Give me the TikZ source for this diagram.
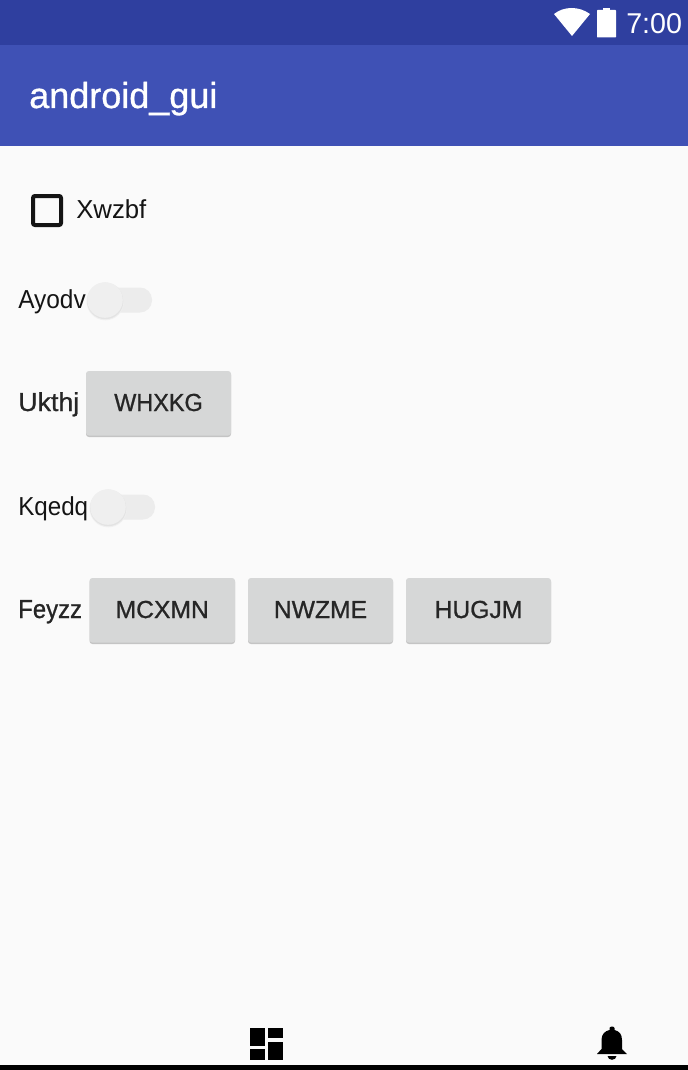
\documentclass[tikz,border=0pt]{standalone}
\usepackage{fontspec}
\setmainfont{Liberation Sans}
\newfontfamily\medfont[FakeBold=0.9]{Liberation Sans}
\definecolor{statusbar}{HTML}{2F3F9F}
\definecolor{appbar}{HTML}{3F51B5}
\definecolor{page}{HTML}{FAFAFA}
\definecolor{btn}{HTML}{D6D7D7}
\definecolor{btnshadow}{HTML}{C4C4C4}
\definecolor{track}{HTML}{ECECEC}
\definecolor{thumb}{HTML}{EFEFEF}
\definecolor{ink}{HTML}{141414}
\definecolor{medink}{HTML}{262626}
\tikzset{
  x=0.75pt,y=-0.75pt,
  lbl/.style={anchor=base west,inner sep=0pt,text=ink,font=\fontsize{19.5pt}{22pt}\selectfont},
  medlbl/.style={anchor=base west,inner sep=0pt,text=medink,font=\fontsize{19.5pt}{22pt}\medfont},
  btnlabel/.style={anchor=base,inner sep=0pt,text=medink,font=\fontsize{18.5pt}{22pt}\medfont},
  btnface/.style={fill=btn,rounded corners=2.2pt},
  btnedge/.style={fill=btnshadow,rounded corners=2.2pt},
}
\newcommand{\gbutton}[5]{% name, x0, x1, label, xscale
  \fill[btnedge] (#2,372) rectangle (#3,437);
  \fill[btnface] (#2,371) rectangle (#3,435.5);
  \node[btnlabel] (#1) at ({(#2+#3)/2},411) {\scalebox{#5}[1]{#4}};
}
\newcommand{\gswitch}[3]{% x thumb centre, y centre, track right
  \fill[track,rounded corners=9pt] (#1,#2-12.5) rectangle (#3,#2+12.5);
  \fill[black!6] (#1+0.3,#2+1.5) circle (18.8);
  \fill[black!11] (#1+0.3,#2+1) circle (18.2);
  \fill[thumb] (#1,#2) circle (17.8);
}
\begin{document}
\begin{tikzpicture}
\useasboundingbox (0,0) rectangle (688,1070);
\fill[page] (0,0) rectangle (688,1070);
\fill[appbar] (0,45) rectangle (688,146);
\fill[statusbar] (0,0) rectangle (688,45);
% status icons
\fill[white] (572,36) -- (554,14) .. controls (564,6) and (579,6) .. (590,14) -- cycle;
\fill[white] (603,8) rectangle (610,11);
\fill[white,rounded corners=0.5pt] (597,10) rectangle (616,37.5);
\node[anchor=base west,inner sep=0pt,text=white,font=\fontsize{21.5pt}{24pt}\selectfont] (clock) at (626,34) {7:00};
\node[anchor=base west,inner sep=0pt,text=white,font=\fontsize{27pt}{30pt}\medfont] (title) at (29,108) {android\_gui};
% checkbox
\draw[ink,line width=3pt,rounded corners=1.5pt] (33,196) rectangle (61,225);
\node[lbl] (xwzbf) at (76,218) {\scalebox{.99}[1]{Xwzbf}};
% row 2
\node[lbl] (ayodv) at (18,308) {\scalebox{.94}[1]{Ayodv}};
\gswitch{105}{300}{152}
% row 3
\node[medlbl] (ukthj) at (18,411) {\scalebox{1.03}[1]{Ukthj}};
\begin{scope}
\gbutton{whxkg}{86}{231}{WHXKG}{.95}
\end{scope}
% row 4
\node[lbl] (kqedq) at (18,515) {\scalebox{.93}[1]{Kqedq}};
\gswitch{108}{507}{155}
% row 5
\node[medlbl] (feyzz) at (18,618) {\scalebox{.92}[1]{Feyzz}};
\begin{scope}[yshift=-155.25pt]
\gbutton{mcxmn}{89.5}{235}{MCXMN}{1}
\gbutton{nwzme}{248}{393}{NWZME}{1}
\gbutton{hugjm}{406}{551}{HUGJM}{1}
\end{scope}
% bottom icons
\fill[black] (250,1028) rectangle (265,1046);
\fill[black] (250,1049) rectangle (265,1060);
\fill[black] (268,1028) rectangle (283,1038);
\fill[black] (268,1042) rectangle (283,1060);
\fill[black] (597,1054) -- (601.5,1049) -- (601.5,1040) .. controls (601.5,1034) and (605,1031) .. (609.5,1030)
  -- (609.5,1028) .. controls (610,1026) and (614,1026) .. (614.5,1028) -- (614.5,1030)
  .. controls (619,1031) and (622,1034) .. (622,1040) -- (622,1049) -- (627,1054) -- cycle;
\fill[black] (607.5,1056) -- (616.5,1056) .. controls (616,1061) and (608,1061) .. (607.5,1056) -- cycle;
\fill[black] (0,1065) rectangle (688,1070);
\end{tikzpicture}
\end{document}
